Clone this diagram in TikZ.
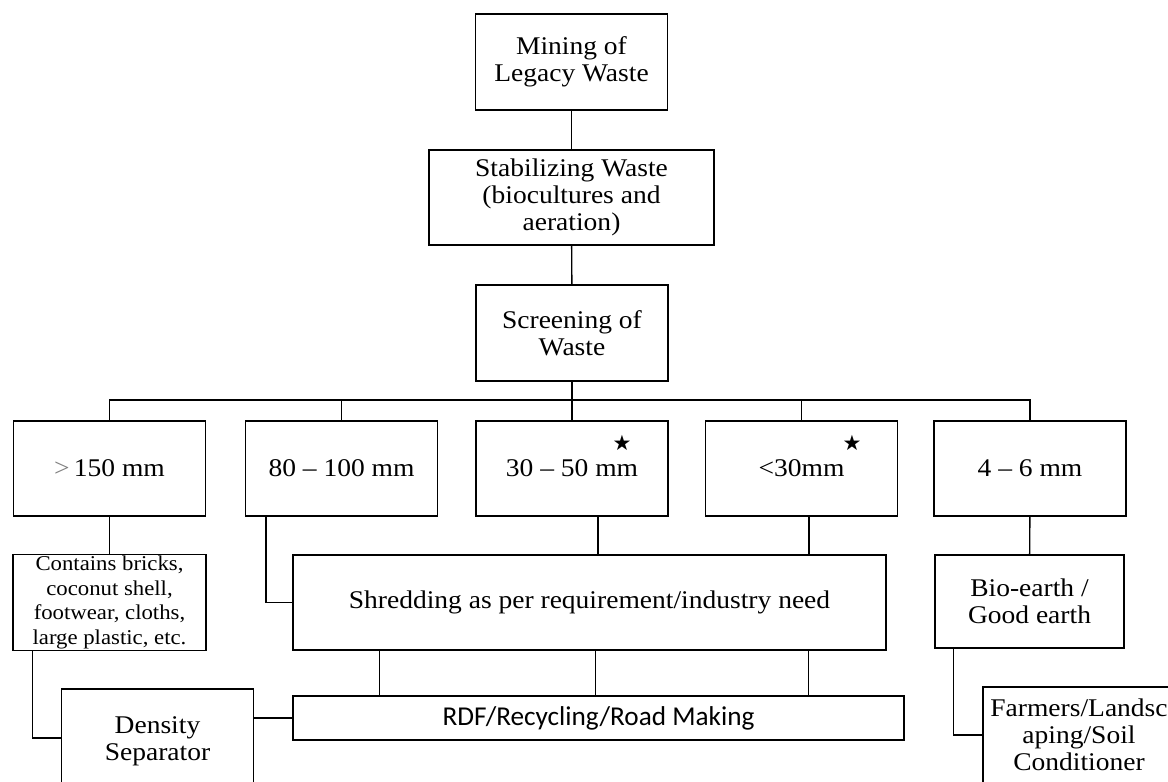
\documentclass[tikz,border=0pt]{standalone}
\usepackage{fontspec}
\setmainfont{Liberation Serif}[FakeStretch=1.08]
\newfontfamily\rdffont{Carlito}
\newfontfamily\starfont{DejaVu Sans}

\begin{document}
\begin{tikzpicture}[x=0.02cm,y=-0.02cm,
  box/.style={draw, line width=.8pt, align=center, inner sep=1pt,
    minimum width=3.84cm, minimum height=1.92cm,
    font=\fontsize{14.5}{15.5}\selectfont},
  link/.style={line width=.8pt},
  starmark/.style={font=\starfont\fontsize{12}{12}\selectfont, inner sep=0pt}]
  \useasboundingbox (0,0) rectangle (1168,781);
  \clip (0,0) rectangle (1168,781);
  % main chain
  \node[box] (mine) at (571.5,62) {Mining of\\Legacy Waste};
  \node[box, minimum width=5.7cm, minimum height=1.9cm] (stab) at (571.5,197.5)
    {Stabilizing Waste\\(biocultures and\\aeration)};
  \node[box] (scr) at (572,333) {Screening of\\Waste};
  % size fractions
  \node[box, minimum height=1.9cm] (s1) at (109.5,468.5) {\textcolor{gray}{>}\,150 mm};
  \node[box, minimum height=1.9cm] (s2) at (341.5,468.5) {80 -- 100 mm};
  \node[box, minimum height=1.9cm] (s3) at (572,468.5) {30 -- 50 mm};
  \node[box, minimum height=1.9cm] (s4) at (801.5,468.5) {<30mm};
  \node[box, minimum height=1.9cm] (s5) at (1030,468.5) {4 -- 6 mm};
  \node[starmark] (star3) at (622,443) {★};
  \node[starmark] (star4) at (852,443) {★};
  % products
  \node[box, minimum width=3.86cm, minimum height=1.9cm,
    font=\fontsize{12}{13.9}\selectfont] (cont) at (109.5,602.5)
    {Contains bricks,\\coconut shell,\\footwear, cloths,\\large plastic, etc.};
  \node[box, minimum width=11.86cm, minimum height=1.9cm] (shred) at (589.5,602.5)
    {Shredding as per requirement/industry need};
  \node[box, minimum width=3.78cm, minimum height=1.86cm] (bio) at (1029.5,601.5)
    {Bio-earth /\\Good earth};
  \node[box, minimum height=2.1cm] (dens) at (157.5,741.5) {Density\\Separator};
  \node[box, minimum width=12.22cm, minimum height=0.88cm,
    font=\rdffont\fontsize{15.5}{17}\selectfont] (rdf) at (598.5,718)
    {RDF/Recycling/Road Making};
  \node[box] (farm) at (1079,735) {Farmers/Landsc\\aping/Soil\\Conditioner};
  % connectors
  \draw[link] (mine) -- (stab);
  \draw[link] (stab) -- (scr);
  \coordinate (bus) at (572,400);
  \draw[link] (scr.south) -- (bus);
  \draw[link] (s1.north) |- (bus) -| (s5.north);
  \foreach \n in {s2,s3,s4}
    \draw[link] (\n.north) -- (\n.north |- bus);
  \draw[link] (s1) -- (cont);
  \draw[link] ([xshift=.42cm]s2.south west) |- (shred.west);
  \draw[link] ([xshift=.52cm]s3.south) coordinate (a3) -- (a3 |- shred.north);
  \draw[link] ([xshift=.15cm]s4.south) coordinate (a4) -- (a4 |- shred.north);
  \draw[link] (s5) -- (bio);
  \foreach \d in {1.74,6.06,10.32}
    \draw[link] ([xshift=\d cm]shred.south west) coordinate (t) -- (t |- rdf.north);
  \draw[link] ([xshift=.4cm]cont.south west) |- ([yshift=.07cm]dens.west);
  \draw[link] (dens.east |- rdf.west) -- (rdf.west);
  \draw[link] ([xshift=.38cm]bio.south west) |- (farm.west);
\end{tikzpicture}
\end{document}
